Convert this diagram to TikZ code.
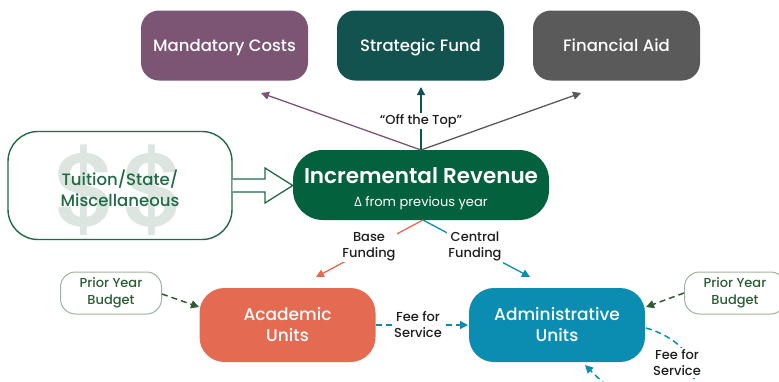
\documentclass[tikz,border=0pt]{standalone}
\usepackage{fontspec}
\setmainfont{Poppins}
\newfontfamily\medfont{Poppins Medium}
\newfontfamily\sbfont{Poppins SemiBold}
\newfontfamily\symfont{Open Sans}
\usetikzlibrary{arrows.meta}
\definecolor{cpurple}{HTML}{7D5574}
\definecolor{cteal}{HTML}{12524F}
\definecolor{cgray}{HTML}{5A5A5A}
\definecolor{cgreen}{HTML}{03613D}
\definecolor{ctgreen}{HTML}{1F6B46}
\definecolor{corange}{HTML}{E56A52}
\definecolor{cblue}{HTML}{0B8DB1}
\definecolor{cpyline}{HTML}{9DB4A1}
\definecolor{cpytext}{HTML}{2E5C36}
\definecolor{cdollar}{HTML}{DDE5E0}
\begin{document}
\begin{tikzpicture}[x=1pt,y=-1pt,
  box/.style={rounded corners=18pt, text=white, align=center, inner sep=0pt,
    minimum width=167pt, minimum height=70pt, text height=11.5pt, text depth=0pt,
    font=\medfont\fontsize{16.5}{19}\selectfont},
  unitbox/.style={rounded corners=25pt, text=white, align=center, inner sep=0pt,
    minimum width=176pt, minimum height=74pt, font=\medfont\fontsize{17}{21}\selectfont},
  pybox/.style={draw=cpyline, line width=1pt, fill=white, rounded corners=15pt, text=cpytext,
    align=center, inner sep=0pt, minimum width=101pt, minimum height=42pt,
    font=\medfont\fontsize{13}{17}\selectfont},
  lbl/.style={font=\medfont\fontsize{13}{16}\selectfont, align=center, fill=white, inner sep=1.5pt, text=black!88},
  tip/.style={-{Triangle[length=8pt,width=8pt]}},
  conn/.style={line width=1.3pt},
  dsh/.style={line width=1.5pt, dash pattern=on 6pt off 4pt}]
\useasboundingbox (0,0) rectangle (779,381);
\clip (0,0) rectangle (779,381);
\fill[white] (0,0) rectangle (779,381);

% top boxes
\node[box, fill=cpurple] (mand) at (224.5,45.5) {Mandatory Costs};
\node[box, fill=cteal] (strat) at (420.5,45.5) {Strategic Fund};
\node[box, fill=cgray] (fin) at (616.5,45.5) {Financial Aid};

% incremental revenue
\node[fill=cgreen, rounded corners=30pt, inner sep=0pt,
  minimum width=256pt, minimum height=70pt] (inc) at (421,185) {};
\node[text=white, inner sep=0pt, font=\sbfont\fontsize{21.5}{24}\selectfont,
  text height=15pt, text depth=0pt] (inctitle) at (421,175.5) {Incremental Revenue};
\node[text=white, inner sep=0pt, font=\fontsize{13}{16}\selectfont,
  text height=9.5pt, text depth=0pt] (incsub) at (421,201.5) {{\symfont Δ} from previous year};

% tuition box
\node[draw=ctgreen, line width=1.4pt, fill=white, rounded corners=30pt,
  minimum width=224pt, minimum height=108pt, inner sep=0pt] (tui) at (120,185.5) {};
\node[text=cdollar, font=\medfont\fontsize{104}{104}\selectfont, inner sep=0pt] (dollars) at (120,190) {\$\$};
\node[text=ctgreen, align=center, font=\medfont\fontsize{16.5}{21}\selectfont, inner sep=0pt] (tuitxt) at (120,188)
  {Tuition/State/\\Miscellaneous};

% block arrow
\draw[ctgreen, line width=1.3pt, fill=white, line join=miter]
  (tui.east |- 0,179) -- (265,179) -- (265,168) -- (inc.west |- 0,185.5) -- (265,203) -- (265,192) -- (tui.east |- 0,192);

% off the top arrows
\coordinate (incTop) at (421,150);
\coordinate (mandEnd) at (261,93);
\coordinate (stratEnd) at (421,87);
\coordinate (finEnd) at (581,93);
\draw[conn, cpurple, tip] (incTop) -- (mandEnd);
\draw[conn, cgray, tip] (incTop) -- (finEnd);
\draw[conn, cteal, tip] (incTop) -- (stratEnd);
\node[lbl] (offtop) at (421,121) {“Off the Top”};

% units
\node[unitbox, fill=corange] (acad) at (287.5,325) {Academic\\Units};
\node[unitbox, fill=cblue] (admin) at (557,325) {Administrative\\Units};

% funding arrows
\coordinate (incBot) at (423,220);
\coordinate (baseEnd) at (316,277);
\coordinate (centEnd) at (530,277);
\draw[conn, corange, tip] (incBot) -- (baseEnd);
\draw[conn, cblue, tip] (incBot) -- (centEnd);
\node[lbl] (baselbl) at (369,246.5) {Base\\Funding};
\node[lbl] (centlbl) at (475,246.5) {Central\\Funding};

% prior year budgets
\node[pybox] (pyl) at (111,293) {Prior Year\\Budget};
\node[pybox] (pyr) at (735,293) {Prior Year\\Budget};
\coordinate (pylEnd) at (199,307);
\coordinate (pyrEnd) at (646,307);
\draw[dsh, cpytext, -{Triangle[length=8pt,width=8pt]}] (pyl.east |- 0,294) -- (pylEnd);
\draw[dsh, cpytext, -{Triangle[length=8pt,width=8pt]}] (pyr.west |- 0,293) -- (pyrEnd);

% fee for service
\coordinate (admWest) at (468,325);
\draw[dsh, cblue, -{Triangle[length=8pt,width=8pt]}] (acad.east) -- (admWest);
\node[lbl] (fee1) at (418,325) {Fee for\\Service};

\coordinate (admE) at (646,328);
\coordinate (admBotEnd) at (585,365);
\draw[dsh, cblue, -{Triangle[length=8pt,width=8pt]}] (admE) .. controls (705,345) and (710,400) .. (660,405)
  .. controls (630,408) and (605,385) .. (admBotEnd);
\node[lbl] (fee2) at (677,363) {Fee for\\Service};
\end{tikzpicture}
\end{document}
